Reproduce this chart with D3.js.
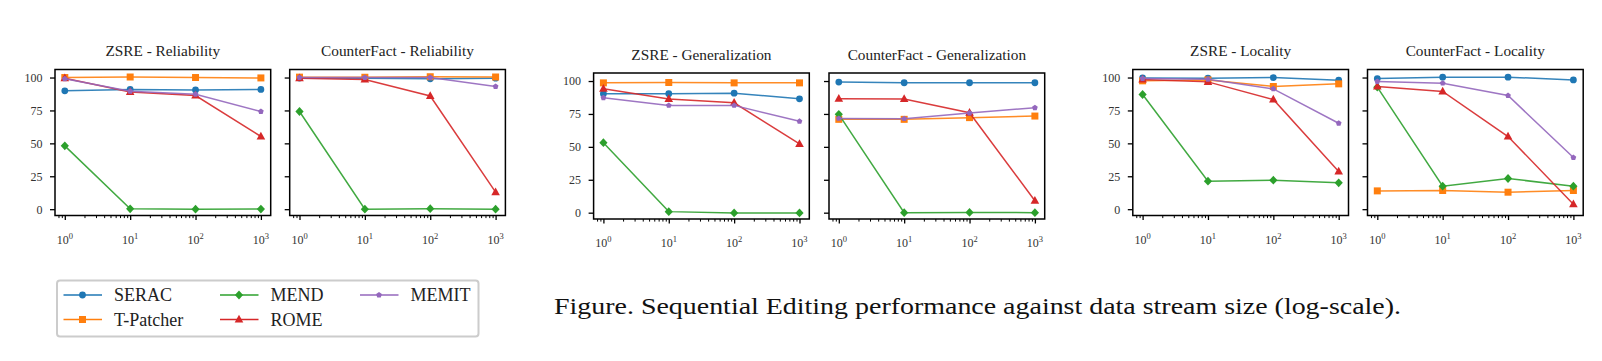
<!DOCTYPE html>
<html><head><meta charset="utf-8">
<script src="https://cdn.jsdelivr.net/npm/d3@7"></script>
<style>
html,body{margin:0;padding:0;background:#fff;}
svg{display:block;font-family:"Liberation Serif","Times New Roman",serif;}
svg text{font-family:"Liberation Serif","Times New Roman",serif;}
</style></head>
<body><svg id="c" width="1602" height="361"></svg>
<script>
// ---- data ----
const steps = [1, 10, 100, 1000];
const methods = ["SERAC", "T-Patcher", "MEND", "ROME", "MEMIT"];
const colors = ["#1f77b4", "#ff7f0e", "#2ca02c", "#d62728", "#9467bd"];
const panelTitles = ["ZSRE - Reliability", "CounterFact - Reliability", "ZSRE - Generalization",
  "CounterFact - Generalization", "ZSRE - Locality", "CounterFact - Locality"];
const yTicks = [0, 25, 50, 75, 100];
const xTicks = [1, 10, 100, 1000];
const xTickExp = ["0", "1", "2", "3"];
// rows: SERAC, T-Patcher, MEND, ROME, MEMIT
const zsreReliability = [
  [89.9, 91.0, 90.6, 91.0],
  [100, 100.4, 100, 99.7],
  [48.1, 0.3, 0, 0.1],
  [99.5, 89.0, 86.3, 55.2],
  [99.0, 89.6, 87.3, 74.2]];
const cfReliability = [
  [99.6, 99.5, 99.0, 99.5],
  [100.3, 100.2, 100.6, 100.4],
  [74.2, 0, 0.4, 0],
  [99.5, 98.5, 86.0, 12.9],
  [100, 100, 100, 93.2]];
const zsreGeneralization = [
  [90.4, 90.4, 90.8, 86.5],
  [98.6, 98.9, 98.6, 98.6],
  [53.2, 0.8, -0.2, -0.2],
  [94.2, 86.3, 83.5, 52.2],
  [87.3, 81.5, 81.5, 69.4]];
const cfGeneralization = [
  [99.2, 98.7, 98.7, 98.7],
  [70.9, 70.9, 72.2, 73.4],
  [74.7, 0, 0.2, 0],
  [86.6, 86.3, 75.9, 9.1],
  [71.6, 71.4, 75.7, 79.7]];
const zsreLocality = [
  [99.7, 99.5, 100, 98.0],
  [97.5, 98.2, 93.2, 95.2],
  [87.1, 21.3, 22.0, 20.0],
  [98.5, 96.7, 83.3, 28.6],
  [99.2, 98.7, 91.4, 65.3]];
const cfLocality = [
  [99.2, 100.3, 100.3, 98.2],
  [13.9, 14.2, 12.9, 14.2],
  [92.7, 17.5, 23.3, 17.5],
  [93.2, 89.4, 55.2, 3.8],
  [97.0, 95.7, 86.3, 39.2]];
const panelData = [zsreReliability, cfReliability, zsreGeneralization, cfGeneralization, zsreLocality, cfLocality];
const captionText = "Figure. Sequential Editing performance against data stream size (log-scale).";

// ---- layout ----
const FONT = "'Liberation Serif','Times New Roman',serif";
const svg = d3.select("#c");
const panelLeft = [55, 289.7, 593.6, 829, 1132.8, 1367.5];
const panelTop = [69.5, 69.5, 73, 73, 69.5, 69.5];
const pw = 215.7, ph = 146;
const showY = [true, false, true, false, true, false];

function markerPath(i) {
  const p = d3.path();
  if (i === 0) { p.arc(0, 0, 3.4, 0, 2 * Math.PI); }
  else if (i === 1) { p.rect(-3.5, -3.5, 7, 7); }
  else if (i === 2) { p.moveTo(0, -4.4); p.lineTo(4.1, 0); p.lineTo(0, 4.4); p.lineTo(-4.1, 0); p.closePath(); }
  else if (i === 3) { p.moveTo(0, -4.7); p.lineTo(4.3, 3.0); p.lineTo(-4.3, 3.0); p.closePath(); }
  else {
    for (let k = 0; k < 5; k++) {
      const a = -Math.PI / 2 + k * 2 * Math.PI / 5;
      const x = 3.0 * Math.cos(a), y = 3.0 * Math.sin(a);
      if (k === 0) p.moveTo(x, y); else p.lineTo(x, y);
    }
    p.closePath();
  }
  return p.toString();
}

const minorTicks = [];
[0.1, 1, 10, 100].forEach(d => { for (let m = 2; m <= 9; m++) minorTicks.push(d * m); });

panelData.forEach((data, pi) => {
  const x0 = panelLeft[pi], y0 = panelTop[pi];
  const x = d3.scaleLog().domain([Math.pow(10, -0.15), Math.pow(10, 3.15)]).range([x0, x0 + pw]);
  const y = d3.scaleLinear().domain([-4.8, 106.1]).range([y0 + ph, y0]);
  const g = svg.append("g").attr("font-family", FONT);

  g.append("text").attr("x", x0 + pw / 2).attr("y", y0 - 13.5)
    .attr("text-anchor", "middle").attr("font-size", 15.3).attr("font-family", FONT)
    .attr("fill", "#222").text(panelTitles[pi]);

  const ya = d3.axisLeft(y).tickValues(yTicks).tickSize(5).tickPadding(7.5)
    .tickFormat(showY[pi] ? d3.format("d") : "");
  const yg = g.append("g").attr("transform", `translate(${x0},0)`).call(ya).attr("font-family", FONT);
  yg.select(".domain").remove();
  yg.selectAll(".tick line").attr("stroke", "#000").attr("stroke-width", 1.3);
  yg.selectAll(".tick text").attr("font-size", 12).attr("fill", "#333").attr("font-family", FONT);

  const xa = d3.axisBottom(x).tickValues(xTicks).tickSize(4.5).tickFormat("");
  const xg = g.append("g").attr("transform", `translate(0,${y0 + ph})`).call(xa);
  xg.select(".domain").remove();
  xg.selectAll(".tick line").attr("stroke", "#000").attr("stroke-width", 1.3);
  const xm = d3.axisBottom(x).tickValues(minorTicks.filter(v => v >= x.domain()[0] && v <= x.domain()[1]))
    .tickSize(2.6).tickFormat("");
  const xmg = g.append("g").attr("transform", `translate(0,${y0 + ph})`).call(xm);
  xmg.select(".domain").remove();
  xmg.selectAll(".tick line").attr("stroke", "#000").attr("stroke-width", 1);
  xTicks.forEach((v, k) => {
    const t = g.append("text").attr("x", x(v)).attr("y", y0 + ph + 28)
      .attr("text-anchor", "middle").attr("font-size", 12).attr("font-family", FONT).attr("fill", "#333");
    t.append("tspan").text("10");
    t.append("tspan").attr("font-size", 8.5).attr("dy", -5).text(xTickExp[k]);
  });

  data.forEach((vals, si) => {
    const pts = vals.map((v, j) => [x(steps[j]), y(v)]);
    g.append("path").attr("d", d3.line()(pts)).attr("fill", "none")
      .attr("stroke", colors[si]).attr("stroke-width", 1.5).attr("stroke-opacity", 0.9);
    g.selectAll(null).data(pts).enter().append("path")
      .attr("transform", d => `translate(${d[0]},${d[1]})`)
      .attr("d", markerPath(si)).attr("fill", colors[si]);
  });

  g.append("rect").attr("x", x0).attr("y", y0).attr("width", pw).attr("height", ph)
    .attr("fill", "none").attr("stroke", "#000").attr("stroke-width", 1.5);
});

// ---- legend ----
const lg = svg.append("g");
lg.append("rect").attr("x", 57).attr("y", 280.5).attr("width", 421.5).attr("height", 56)
  .attr("rx", 3).attr("fill", "#fff").attr("stroke", "#ccc").attr("stroke-width", 2);
const legCol = [63.5, 220, 360];
const legRow = [295, 319.5];
methods.forEach((m, i) => {
  const col = Math.floor(i / 2), row = i % 2;
  const lx = legCol[col], ly = legRow[row];
  lg.append("line").attr("x1", lx).attr("x2", lx + 38.5).attr("y1", ly).attr("y2", ly)
    .attr("stroke", colors[i]).attr("stroke-width", 1.5);
  lg.append("path").attr("transform", `translate(${lx + 19},${ly})`).attr("d", markerPath(i)).attr("fill", colors[i]);
  lg.append("text").attr("x", lx + 50.5).attr("y", ly + 6).attr("font-size", 18)
    .attr("font-family", FONT).attr("fill", "#222").text(m);
});

// ---- caption ----
svg.append("text").attr("x", 554).attr("y", 313.5).attr("font-size", 23).attr("fill", "#111")
  .attr("font-family", FONT)
  .attr("textLength", 847).attr("lengthAdjust", "spacingAndGlyphs").text(captionText);
</script></body></html>
